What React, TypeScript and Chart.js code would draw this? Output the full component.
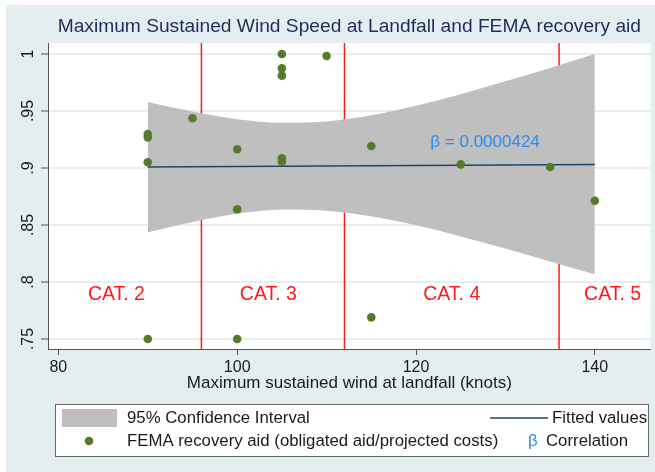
import React, { useEffect, useRef } from "react";
import { Chart, registerables } from "chart.js";

Chart.register(...registerables);

// ---------- data ----------
const chartTitle = "Maximum Sustained Wind Speed at Landfall and FEMA recovery aid";
const xAxisTitle = "Maximum sustained wind at landfall (knots)";

const windKnots = [90, 90, 90, 90, 95, 100, 100, 100, 105, 105, 105, 105, 105, 110, 115, 115, 125, 135, 140];
const aidRatio = [0.9298, 0.9269, 0.905, 0.75, 0.9436, 0.9164, 0.8638, 0.75, 1.0, 0.9875, 0.981, 0.9085, 0.9055, 0.9982, 0.9193, 0.769, 0.9032, 0.9009, 0.8713];

const fitX = [90, 140];
const fitY = [0.9009, 0.903];

const ciX = [90, 95, 100, 105, 110, 115, 120, 125, 130, 135, 140];
const ciUpper = [0.9579, 0.9495, 0.9428, 0.9397, 0.9408, 0.9462, 0.9545, 0.9646, 0.976, 0.9878, 1.0];
const ciLower = [0.8436, 0.8527, 0.8598, 0.8636, 0.8626, 0.8576, 0.8497, 0.84, 0.8294, 0.818, 0.8068];

const categoryBoundaries = [96, 112, 136];
const categoryLabels = ["CAT. 2", "CAT. 3", "CAT. 4", "CAT. 5"];
const categoryLabelX = [83.3, 100.3, 120.8, 138.8];
const categoryLabelY = 0.7892;

const betaLabel = "β = 0.0000424";
const betaX = 121.6;
const betaY = 0.9225;

const yTicks = [0.75, 0.8, 0.85, 0.9, 0.95, 1];
const yTickLabels = [".75", ".8", ".85", ".9", ".95", "1"];
const xTicks = [80, 100, 120, 140];
const xMin = 78.84;
const xMax = 146.25;
const yMin = 0.74123;
const yMax = 1.00965;

const legendCI = "95% Confidence Interval";
const legendFit = "Fitted values";
const legendPoints = "FEMA recovery aid (obligated aid/projected costs)";
const legendBetaSymbol = "β";
const legendBeta = "Correlation";

// ---------- styles ----------
const FONT = "'Liberation Sans', Arial, sans-serif";
const BG = "#e4eef0";
const GRID = "#e6eef0";
const GREEN = "#557a2b";
const BAND = "#bfbfbf";
const NAVY = "#1a476f";
const RED = "#ff1a1a";
const BLUE = "#2a8cf0";
const TEXT = "#1a1a1a";
const AXIS = "#555555";

const decorPlugin = {
  id: "decor",
  beforeDraw(chart: any) {
    const { ctx, chartArea: a, width, height } = chart;
    ctx.save();
    ctx.fillStyle = "#ffffff";
    ctx.fillRect(0, 0, width, height);
    ctx.fillStyle = BG;
    ctx.fillRect(6, 5, width - 6, height - 5);
    ctx.fillStyle = "#ffffff";
    ctx.fillRect(a.left, a.top, a.right - a.left, a.bottom - a.top);
    ctx.restore();
  },
  afterDraw(chart: any) {
    const { ctx, chartArea: a } = chart;
    const xs = chart.scales.x;
    const ys = chart.scales.y;
    ctx.save();
    // title
    ctx.fillStyle = "#1e2d5a";
    ctx.font = `19.2px ${FONT}`;
    ctx.textAlign = "center";
    ctx.textBaseline = "middle";
    ctx.fillText(chartTitle, (a.left + a.right) / 2, 27);

    // category labels
    ctx.fillStyle = RED;
    ctx.font = `19.5px ${FONT}`;
    ctx.textAlign = "left";
    categoryLabels.forEach((t, i) => {
      ctx.fillText(t, xs.getPixelForValue(categoryLabelX[i]), ys.getPixelForValue(categoryLabelY));
    });

    // beta label
    ctx.fillStyle = BLUE;
    ctx.font = `17px ${FONT}`;
    ctx.fillText(betaLabel, xs.getPixelForValue(betaX), ys.getPixelForValue(betaY));

    // legend
    const lx = 55, ly = 404, lw = 593, lh = 52;
    ctx.fillStyle = "#ffffff";
    ctx.fillRect(lx, ly, lw, lh);
    ctx.strokeStyle = "#666666";
    ctx.lineWidth = 1;
    ctx.strokeRect(lx + 0.5, ly + 0.5, lw, lh);

    const r1 = 418, r2 = 441;
    ctx.fillStyle = BAND;
    ctx.fillRect(62, r1 - 9, 55, 18);
    ctx.fillStyle = TEXT;
    ctx.font = `16.8px ${FONT}`;
    ctx.textBaseline = "middle";
    ctx.fillText(legendCI, 127, r1);
    ctx.strokeStyle = NAVY;
    ctx.lineWidth = 1.5;
    ctx.beginPath();
    ctx.moveTo(490, r1);
    ctx.lineTo(548, r1);
    ctx.stroke();
    ctx.fillText(legendFit, 552, r1);

    ctx.fillStyle = GREEN;
    ctx.beginPath();
    ctx.arc(89, r2, 4.3, 0, Math.PI * 2);
    ctx.fill();
    ctx.fillStyle = TEXT;
    ctx.fillText(legendPoints, 127, r2);
    ctx.fillStyle = BLUE;
    ctx.fillText(legendBetaSymbol, 528, r2);
    ctx.fillStyle = TEXT;
    ctx.fillText(legendBeta, 546, r2);
    ctx.restore();
  },
};

export default function App() {
  const ref = useRef<HTMLCanvasElement | null>(null);

  useEffect(() => {
    if (!ref.current) return;
    const points = windKnots.map((x, i) => ({ x, y: aidRatio[i] }));
    const fit = fitX.map((x, i) => ({ x, y: fitY[i] }));
    const upper = ciX.map((x, i) => ({ x, y: ciUpper[i] }));
    const lower = ciX.map((x, i) => ({ x, y: ciLower[i] }));

    const redLines = categoryBoundaries.map((b) => ({
      label: "cat-" + b,
      data: [
        { x: b, y: yMin },
        { x: b, y: yMax },
      ],
      borderColor: RED,
      borderWidth: 1.5,
      pointRadius: 0,
      showLine: true,
      fill: false,
      order: 4,
    }));

    const chart = new Chart(ref.current, {
      type: "line",
      data: {
        datasets: [
          {
            label: "points",
            data: points,
            showLine: false,
            pointRadius: 4.3,
            pointBackgroundColor: GREEN,
            pointBorderColor: GREEN,
            pointBorderWidth: 0,
            order: 0,
          },
          {
            label: "fit",
            data: fit,
            borderColor: NAVY,
            borderWidth: 1.5,
            pointRadius: 0,
            fill: false,
            order: 1,
          },
          {
            label: "ciUpper",
            data: upper,
            borderWidth: 0,
            borderColor: "rgba(0,0,0,0)",
            backgroundColor: BAND,
            pointRadius: 0,
            cubicInterpolationMode: "monotone",
            fill: "+1",
            order: 2,
          },
          {
            label: "ciLower",
            data: lower,
            borderWidth: 0,
            borderColor: "rgba(0,0,0,0)",
            backgroundColor: BAND,
            pointRadius: 0,
            cubicInterpolationMode: "monotone",
            fill: false,
            order: 3,
          },
          ...redLines,
        ] as any,
      },
      options: {
        responsive: false,
        devicePixelRatio: 1,
        animation: false,
        layout: { padding: { left: 0, right: 3, top: 43, bottom: 78 } },
        plugins: {
          legend: { display: false },
          title: { display: false },
          tooltip: { enabled: false },
        },
        scales: {
          x: {
            type: "linear",
            min: xMin,
            max: xMax,
            afterBuildTicks: (scale: any) => {
              scale.ticks = xTicks.map((v) => ({ value: v }));
            },
            afterFit: (scale: any) => {
              scale.height = 45;
            },
            ticks: {
              font: { family: FONT, size: 16 },
              color: TEXT,
              padding: 3,
              minRotation: 0,
              maxRotation: 0,
              autoSkip: false,
            },
            grid: {
              drawOnChartArea: false,
              drawTicks: true,
              tickLength: 6,
              tickColor: AXIS,
              tickWidth: 1,
            },
            border: { color: AXIS, width: 1 },
            title: {
              display: true,
              text: xAxisTitle,
              font: { family: FONT, size: 17 },
              color: TEXT,
              padding: { top: 0, bottom: 0 },
            },
          },
          y: {
            type: "linear",
            min: yMin,
            max: yMax,
            afterBuildTicks: (scale: any) => {
              scale.ticks = yTicks.map((v) => ({ value: v }));
            },
            afterFit: (scale: any) => {
              scale.width = 48;
            },
            ticks: {
              font: { family: FONT, size: 16 },
              color: TEXT,
              padding: 1,
              minRotation: 90,
              maxRotation: 90,
              crossAlign: "center",
              autoSkip: false,
              callback: (_v: any, i: number) => yTickLabels[i],
            },
            grid: {
              color: GRID,
              lineWidth: 2,
              drawTicks: true,
              tickLength: 7,
              tickColor: AXIS,
              tickWidth: 1,
            },
            border: { color: AXIS, width: 1 },
          },
        },
      } as any,
      plugins: [decorPlugin],
    });
    return () => chart.destroy();
  }, []);

  return (
    <div style={{ position: "absolute", left: 0, top: 0, width: 655, height: 472 }}>
      <canvas ref={ref} width={655} height={472} style={{ display: "block" }} />
    </div>
  );
}
